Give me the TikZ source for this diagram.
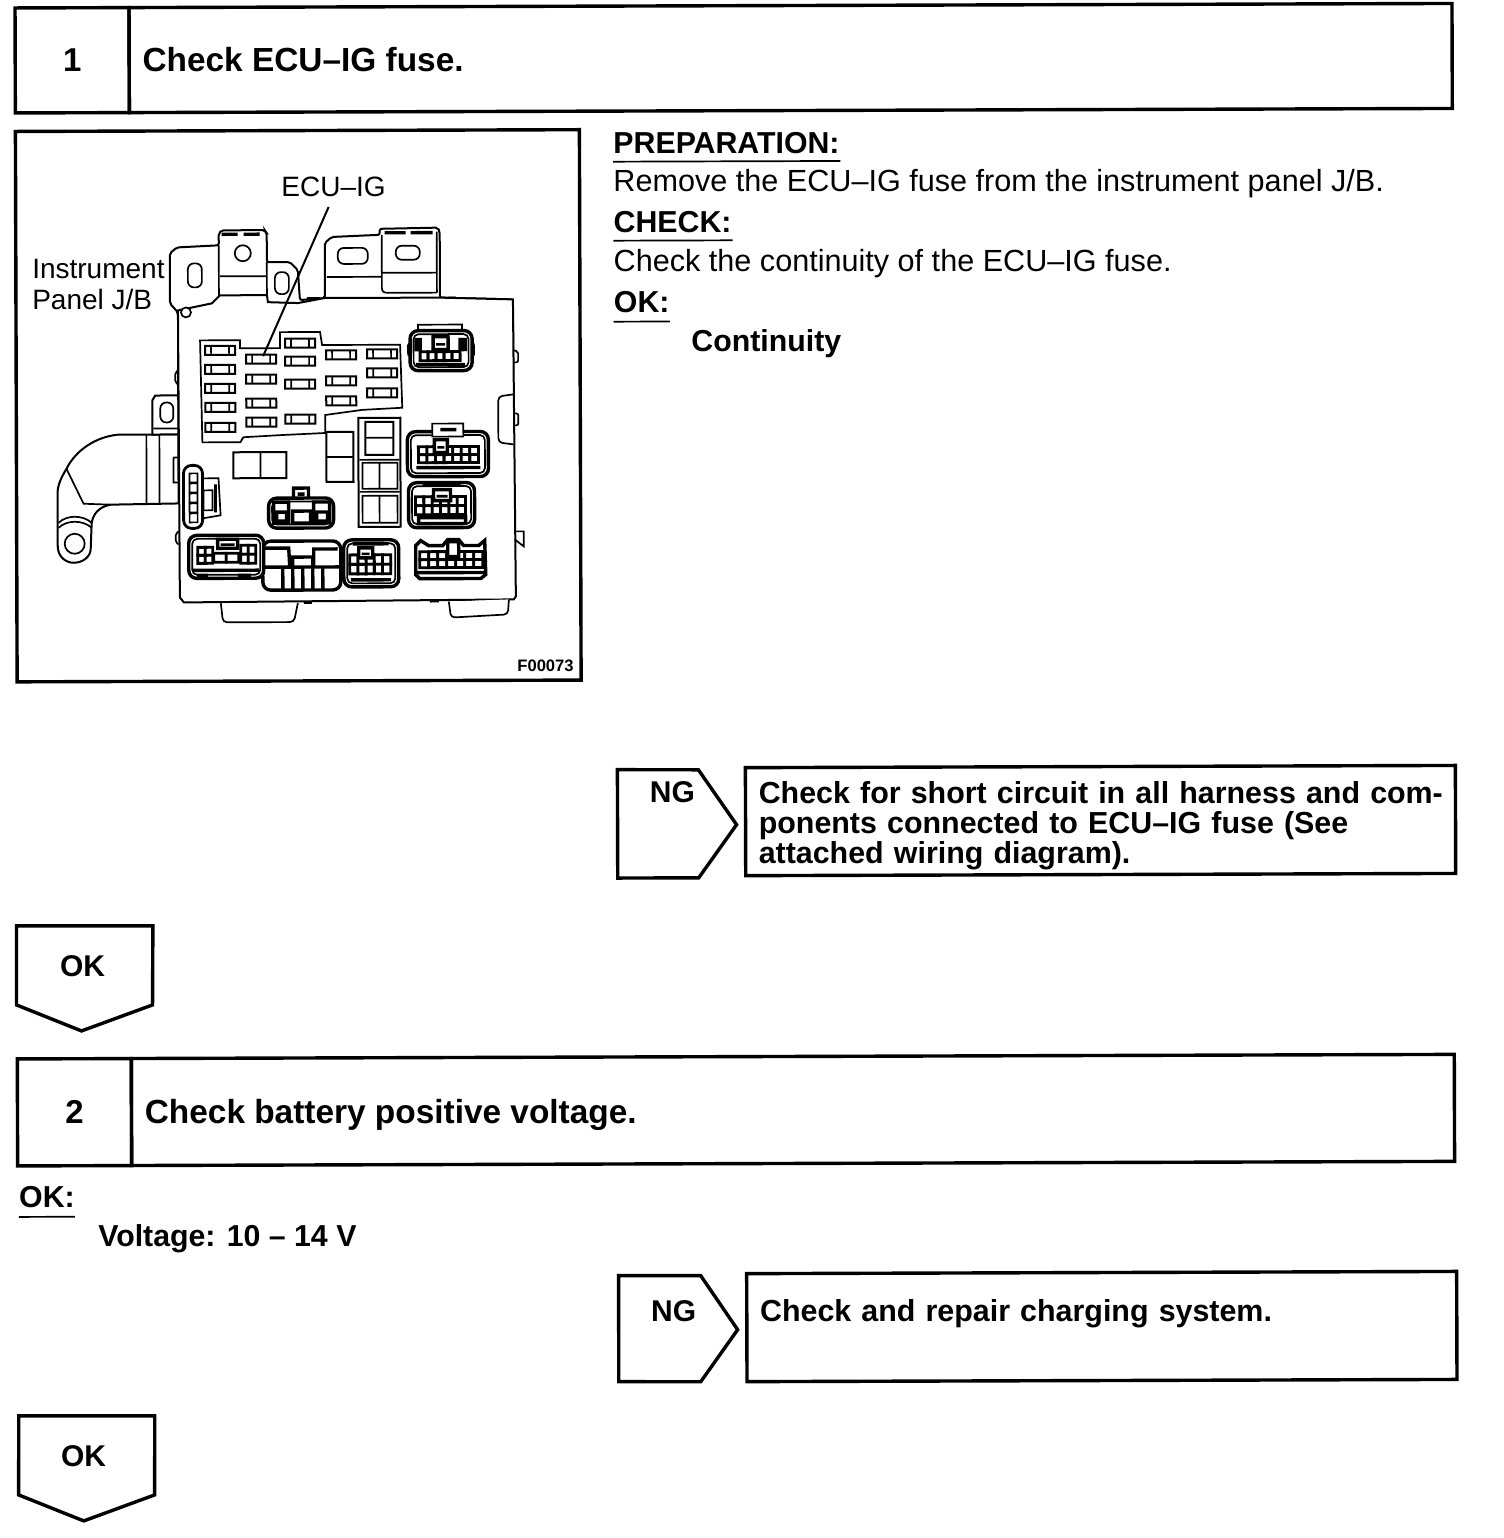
\documentclass[tikz,border=0pt]{standalone}
\usepackage{fontspec}
\setmainfont{Liberation Sans}
\usetikzlibrary{positioning}
\tikzset{
  flat/.style={rotate=-0.18},
  boxline/.style={draw=black, line width=1.7pt},
  partline/.style={draw=black, line width=1pt, fill=white},
  fineline/.style={draw=black, line width=0.85pt},
  darkline/.style={draw=black, line width=1.7pt},
  stepbox/.style={boxline, outer sep=0pt, minimum height=52.5pt, minimum width=57pt, font=\fontsize{16.5}{16.5}\selectfont\bfseries},
  titlebox/.style={boxline, outer sep=0pt, minimum height=52.5pt, minimum width=661.5pt},
  titletext/.style={flat, anchor=west, inner sep=0pt, font=\fontsize{16.7}{16.7}\selectfont\bfseries},
  notebox/.style={boxline, outer sep=0pt, anchor=north west, minimum width=355pt, minimum height=54pt},
  notetext/.style={flat, anchor=north west, inner sep=0pt, text width=347pt, align=left, font=\fontsize{15.2}{15}\selectfont\bfseries},
  branchmark/.style={flat, inner sep=0pt, font=\fontsize{15}{15}\selectfont\bfseries},
  head/.style={flat, anchor=base west, inner sep=0pt, font=\fontsize{15.15}{15}\selectfont\bfseries},
  body/.style={flat, anchor=base west, inner sep=0pt, font=\fontsize{15.3}{15.3}\selectfont},
  lead/.style={draw=black, line width=1pt},
}
\begin{document}
\begin{tikzpicture}[x=0.5pt, y=-0.5pt]
  \useasboundingbox (0,0) rectangle (1504,1538);

  % one fuse of the panel
  \newcommand\fuse[2]{%
    \draw[partline] (#1-15,#2-4.5) rectangle (#1+15,#2+4.5);
    \draw[fineline] (#1-9,#2-4.5) -- (#1-9,#2+4.5) (#1+9,#2-4.5) -- (#1+9,#2+4.5);
  }
  % connector shell: x, y, w, h
  \newcommand\shell[4]{%
    \draw[darkline, fill=white, rounded corners=4] (#1,#2) rectangle (#1+#3,#2+#4);
    \draw[fineline, rounded corners=2.5] (#1+3.5,#2+3.5) rectangle (#1+#3-3.5,#2+#4-3.5);
  }
  % cells: x, y, w, h, columns, rows
  \newcommand\cells[6]{%
    \foreach \col in {1,...,#5}
      \foreach \row in {1,...,#6}
        \draw[draw=black, line width=1.4pt, fill=white]
          ({#1+(\col-1)*#3/#5}, {#2+(\row-1)*#4/#6}) rectangle +({#3/#5}, {#4/#6});
  }
  % latch in the middle: x, y, w, h
  \newcommand\latch[4]{%
    \draw[darkline, fill=white] (#1,#2) rectangle (#1+#3,#2+#4);
    \draw[draw=black, line width=1.3pt] (#1+3,#2+#4*0.6) -- (#1+#3-3,#2+#4*0.6);
  }

  \begin{scope}[rotate=0.18, transform shape]

    % step 1
    \node[stepbox, anchor=north west] (stepA) at (15,8) {1};
    \node[titlebox, right=0pt of stepA] (titleA) {};
    \node[titletext, right=6.5pt of titleA.west] (titleTextA) {Check ECU--IG fuse.};

    % picture frame
    \node[boxline, outer sep=0pt, anchor=north west, minimum width=282pt, minimum height=275.2pt] (frameA) at (15,131.5) {};
    \node[flat, anchor=south east, inner sep=0pt, font=\fontsize{8.3}{8.3}\selectfont\bfseries] (figNo) at (572,673.5) {F00073};

    % text right of the frame
    \node[head] (prepHead) at (612.6,155) {PREPARATION:};
    \draw[fineline] (612.6,163.6) -- (840,163.6);
    \node[body] (prepText) at (612.5,193.6) {Remove the ECU--IG fuse from the instrument panel J/B.};
    \node[head] (checkHead) at (612.6,234) {CHECK:};
    \draw[fineline] (612.6,242.6) -- (732,242.6);
    \node[body] (checkText) at (612.5,273.6) {Check the continuity of the ECU--IG fuse.};
    \node[head] (okHeadA) at (612.6,314) {OK:};
    \draw[fineline] (612.6,323.6) -- (669,323.6);
    \node[head] (okTextA) at (690,353.2) {Continuity};

    % NG branch 1
    \draw[boxline] (615,771.6) -- (696,772) -- (734,827) -- (696,880) -- (615,880) -- cycle;
    \node[branchmark] (ngA) at (670,794) {NG};
    \node[notebox] (noteA) at (743,770) {};
    \node[notetext, below right=6.5pt and 6.5pt of noteA.north west] (noteTextA)
      {Check for short circuit in all harness and com-\\ponents connected to ECU--IG fuse (See\\attached wiring diagram).};

    % OK branch 1
    \draw[boxline] (13.6,926) -- (150,926.4) -- (149.4,1005.4) -- (78.3,1031.2) -- (13.4,1005) -- cycle;
    \node[branchmark] (okA) at (79.5,966) {OK};

    % step 2
    \node[stepbox, minimum height=53.5pt, anchor=north west] (stepB) at (14,1059) {2};
    \node[titlebox, minimum height=53.5pt, right=0pt of stepB] (titleB) {};
    \node[titletext, right=6.5pt of titleB.west, yshift=-1.5pt] (titleTextB) {Check battery positive voltage.};
    \node[head] (okHeadB) at (15,1208) {OK:};
    \draw[fineline] (15,1217) -- (71,1217);
    \node[head] (okTextB) at (94,1247) {Voltage: 10 -- 14 V};

    % NG branch 2
    \draw[boxline] (614.7,1277.6) -- (696.7,1277.8) -- (733.5,1332) -- (696.4,1384) -- (614.4,1383.6) -- cycle;
    \node[branchmark] (ngB) at (669.6,1313) {NG};
    \node[notebox] (noteB) at (742.7,1276) {};
    \node[notetext, below right=13pt and 6.5pt of noteB.north west] (noteTextB)
      {Check and repair charging system.};

    % OK branch 2
    \draw[boxline] (14.3,1416) -- (150.3,1416.4) -- (150,1495.4) -- (79,1521.2) -- (14,1495) -- cycle;
    \node[branchmark] (okB) at (79,1456) {OK};

    % junction block
    \begin{scope}[shift={(-1,1)}]
      % harness and its bracket
      \draw[partline] (152,434) -- (118,434) .. controls (95,436) and (75,450) .. (66,468)
        .. controls (60,478) and (57,485) .. (57,493) -- (57,545)
        .. controls (57,556) and (65,562) .. (73,562) .. controls (82,562) and (90,556) .. (90,548)
        -- (91,523) .. controls (92,514) and (98,506) .. (110,504) -- (178,503) -- (178,434) -- cycle;
      \draw[fineline] (66,468) -- (83,503) -- (110,504);
      \draw[fineline] (58,522) .. controls (66,514) and (82,514) .. (91,522);
      \draw[fineline] (58,527) .. controls (66,519) and (82,519) .. (91,527);
      \draw[fineline] (74,543) circle (10);
      \draw[fineline] (146,434) -- (146,503) (159,434) -- (159,503);
      \draw[partline] (152,434) -- (152,400) -- (155,395) -- (178,395) -- (178,434) -- cycle;
      \draw[fineline] (153,428) -- (178,428);
      \draw[fineline, rounded corners=3] (160,402) rectangle (173,422);

      % brackets on top
      \draw[partline, rounded corners=1] (178,312) -- (170,303) -- (170,253) -- (177,247) -- (219,245)
        -- (219,233) -- (222,230) -- (265,230) -- (267,233) -- (267,262) -- (290,262) -- (298,270)
        -- (300,300) -- (325,298) -- (325,243) -- (332,237) -- (380,235) -- (380,229) -- (438,228) -- (440,232)
        -- (440,298) -- (513,300) -- (513,400) -- (178,400) -- cycle;
      \draw[fineline, rounded corners=3] (188,263) rectangle (202,287);
      \draw[fineline] (243,253) circle (8);
      \draw[darkline] (222,234) -- (238,234) (244,234) -- (260,234);
      \draw[fineline] (220,276) -- (267,276);
      \draw[fineline] (219,245) -- (219,296) (267,262) -- (267,296);
      \draw[fineline, rounded corners=3] (275,272) rectangle (289,294);
      \draw[fineline, rounded corners=3] (338,248) rectangle (368,264);
      \draw[fineline, rounded corners=3] (396,246) rectangle (420,260);
      \draw[darkline] (385,233) -- (406,233) (411,233) -- (433,233);
      \draw[fineline] (327,277) -- (382,277) (382,273) -- (437,273);
      \draw[fineline] (382,235) -- (382,288) .. controls (382,292) and (384,293) .. (388,293) -- (437,293);
      \draw[fineline] (437,232) -- (437,293);

      % body of the block
      \draw[partline] (178,310) -- (179,597) -- (183,602) -- (513,600) -- (515,597)
        -- (513,300) -- (440,298) -- (325,298) -- (298,303) -- (268,302) -- (267,295) -- (220,295)
        -- (212,303) -- cycle;
      \draw[fineline, fill=white] (186,312) circle (5);
      \draw[fineline, fill=white, rounded corners=2] (220,603) -- (222,622) -- (293,622) -- (297,603);
      \draw[fineline, fill=white, rounded corners=2] (448,602) -- (450,618) -- (507,615) -- (508,600);
      \draw[fineline] (303,603) -- (311,603) (429,602) -- (438,602) (307,298) -- (320,298) (443,298) -- (456,298);
      \draw[fineline, rounded corners=1] (514,351) -- (518,352) -- (518,363) -- (514,363);
      \draw[fineline, rounded corners=1] (514,414) -- (518,414) -- (518,426) -- (514,426);
      \draw[fineline, rounded corners=1] (178,370) -- (175,372) -- (175,382) -- (178,384);
      \draw[fineline, rounded corners=1] (178,531) -- (175,533) -- (175,542) -- (178,544);
      \draw[fineline] (514,532) -- (523,532) -- (523,547) -- (514,540);
      \draw[fineline, rounded corners=2] (513,395) -- (498,397) -- (498,443) -- (513,445);
      \draw[fineline] (173,457) -- (179,457) (173,457) -- (173,482) -- (179,482);

      % fuse panel
      \draw[fineline] (200,340) -- (240,340) -- (240,348) -- (280,348) -- (280,332) -- (320,332)
        -- (322,345) -- (400,345) -- (402,408) -- (362,410) -- (325,415) -- (325,433) -- (280,435)
        -- (243,437) -- (240,442) -- (202,442) -- cycle;
      \foreach \fy in {350,369,388,407,427} { \fuse{220}{\fy} }
      \foreach \fy in {359,379,403,422} { \fuse{261}{\fy} }
      \foreach \fy in {343,361,384,419} { \fuse{300}{\fy} }
      \foreach \fy in {355,381,401} { \fuse{341}{\fy} }
      \foreach \fy in {354,373,393} { \fuse{382}{\fy} }

      % relay blocks
      \draw[draw=black, line width=1pt] (233,452) rectangle (286,478);
      \draw[fineline] (260,452) -- (260,478);
      \draw[draw=black, line width=1pt] (326,432) rectangle (353,482);
      \draw[fineline] (326,457) -- (353,457);
      \draw[draw=black, line width=1pt] (358,418) rectangle (400,527);
      \draw[draw=black, line width=1pt] (365,422) rectangle (393,455);
      \draw[fineline] (365,438) -- (393,438) (359,460) -- (399,460) (359,492) -- (399,492);
      \draw[fineline] (362,463) rectangle (397,489) (379,463) -- (379,489);
      \draw[fineline] (362,496) rectangle (397,523) (379,496) -- (379,523);

      % connector upper right
      \draw[fineline, fill=white] (418,325) rectangle (462,333);
      \shell{410}{331}{62}{40}
      \draw[fineline] (408,345) -- (411,343) (408,345) -- (408,355) -- (411,357) (474,345) -- (472,343) (474,345) -- (474,355) -- (472,357);
      \cells{420}{352}{40}{9}{5}{1}
      \draw[darkline, fill=black] (416,340) rectangle (420,350) (460,340) rectangle (465,350);
      \latch{433}{337}{15}{13}
      \draw[darkline] (416,365) -- (465,365);

      % connector beside the relays
      \shell{407}{432}{81}{45}
      \cells{418}{447}{60}{16}{7}{2}
      \latch{434}{440}{13}{13}
      \draw[fineline, fill=white] (432,424) rectangle (463,437);
      \draw[darkline] (440,430) -- (456,430);
      \draw[darkline] (416,468) -- (480,468);

      % connector under it
      \shell{408}{483}{66}{45}
      \cells{415}{497}{50}{18}{6}{2}
      \latch{433}{490}{17}{11}
      \draw[darkline] (422,485) -- (460,485);
      \draw[darkline, fill=white] (418,518) rectangle (465,524);

      % lower right connector
      \draw[darkline, fill=white] (415,546) -- (420,541) -- (428,546) -- (442,546)
        -- (447,540) -- (458,540) -- (463,546) -- (478,546) -- (484,541) -- (485,575) -- (480,579) -- (419,579) -- (415,575) -- cycle;
      \cells{419}{552}{63}{16}{7}{2}
      \draw[darkline, fill=white] (447,542) rectangle (458,557);
      \draw[darkline] (416,573) -- (484,573);

      % connector left of it
      \shell{343}{540}{55}{47}
      \cells{349}{555}{41}{19}{5}{2}
      \latch{358}{548}{14}{10}
      \draw[darkline] (352,544) -- (388,544);
      \draw[darkline] (350,580) -- (390,580);

      % big socket
      \draw[draw=black, line width=1.7pt, fill=white, rounded corners=4] (262,541) rectangle (340,590);
      \draw[darkline] (263,548) -- (288,548) -- (289,567) (292,567) -- (292,557) -- (312,557) -- (312,567)
        (313,567) -- (313,549) -- (337,549) (263,567) -- (339,567);
      \foreach \sx in {282,292,302,312,322} { \draw[darkline] (\sx,567) -- (\sx,589); }

      % connector lower left
      \shell{188}{535}{75}{43}
      \cells{197}{547}{15}{16}{2}{2}
      \cells{240}{545}{15}{18}{2}{2}
      \cells{213}{553}{25}{9}{2}{1}
      \latch{217}{539}{20}{9}
      \draw[darkline] (192,570) -- (258,570);
      \draw[darkline] (196,575) -- (207,575) (237,575) -- (250,575);

      % connector with two squares
      \draw[darkline, fill=white] (293,488) rectangle (308,500);
      \draw[darkline] (297,494) -- (304,494);
      \shell{268}{498}{65}{30}
      \draw[darkline, fill=white] (273,502) rectangle (288,523);
      \draw[darkline, fill=white] (276,512) rectangle (286,521);
      \draw[darkline, fill=white] (313,502) rectangle (329,523);
      \draw[darkline, fill=white] (316,512) rectangle (327,521);
      \draw[darkline, fill=white] (292,511) rectangle (310,523);

      % side connector
      \draw[draw=black, line width=1.4pt, fill=white, rounded corners=4] (183,465) rectangle (202,528);
      \draw[fineline] (202,478) -- (218,478) -- (220,515) -- (202,518);
      \foreach \sy in {473,483,493,503,513} { \draw[fineline] (189,\sy) rectangle (197,\sy+9); }
      \draw[fineline] (203,490) rectangle (212,510);
      \draw[draw=black, line width=1.4pt] (215,484) -- (215,512);
    \end{scope}

    % labels of the picture and the leader line
    \node[flat, inner sep=1pt, font=\fontsize{14}{14}\selectfont] (ecuLabel) at (333,188) {ECU--IG};
    \coordinate (ecuStart) at (328,208);
    \coordinate (ecuFuse) at (262,357);
    \draw[lead] (ecuStart) -- (ecuFuse);
    \node[flat, anchor=west, inner sep=0pt, align=left, font=\fontsize{14}{15.5}\selectfont] (panelLabel) at (31,285) {Instrument\\Panel J/B};

  \end{scope}
\end{tikzpicture}
\end{document}
